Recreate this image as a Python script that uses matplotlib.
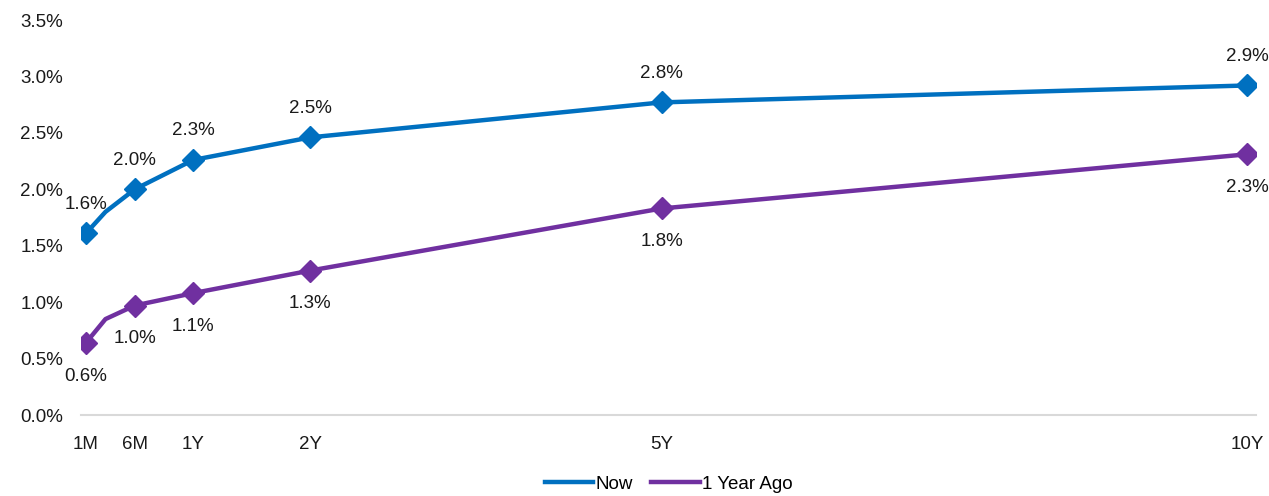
import matplotlib
matplotlib.use("Agg")
import matplotlib.pyplot as plt
from matplotlib.lines import Line2D
import numpy as np

# maturities in months, x axis is linear in months
months = [1, 3, 6, 12, 24, 60, 120]
tick_months = [1, 6, 12, 24, 60, 120]
tick_labels = ["1M", "6M", "1Y", "2Y", "5Y", "10Y"]
now = [1.61, 1.80, 2.00, 2.26, 2.46, 2.77, 2.92]
year_ago = [0.64, 0.85, 0.97, 1.08, 1.28, 1.83, 2.31]
show_marker = [True, False, True, True, True, True, True]

blue = "#0070C0"
purple = "#7030A0"

plt.rcParams["font.family"] = ["Liberation Sans", "DejaVu Sans"]

fig = plt.figure(figsize=(12.69, 4.96), dpi=100)
ax = fig.add_axes([81 / 1269, 81 / 496, (1256 - 81) / 1269, (476 - 81) / 496])

mk = [i for i, s in enumerate(show_marker) if s]
ax.plot(months, now, color=blue, lw=3.2, marker="D", ms=11, markevery=mk)
ax.plot(months, year_ago, color=purple, lw=3.2, marker="D", ms=11, markevery=mk)

fs = 13.5
for i in mk:
    ax.annotate("%.1f%%" % now[i], (months[i], now[i]), xytext=(0, 21), textcoords="offset points",
                ha="center", va="center", fontsize=fs, color="#1a1a1a")
    ax.annotate("%.1f%%" % year_ago[i], (months[i], year_ago[i]), xytext=(0, -24), textcoords="offset points",
                ha="center", va="center", fontsize=fs, color="#1a1a1a")

ax.set_xlim(0.49, 120.92)
ax.set_ylim(0, 3.5)
ax.set_yticks(np.arange(0, 3.51, 0.5))
ax.set_yticklabels(["%.1f%%" % v for v in np.arange(0, 3.51, 0.5)])
ax.set_xticks(tick_months)
ax.set_xticklabels(tick_labels)
ax.tick_params(length=0, labelsize=fs, colors="#1a1a1a")
ax.tick_params(axis="y", pad=13)
ax.tick_params(axis="x", pad=15)
for s in ["top", "right", "left"]:
    ax.spines[s].set_visible(False)
ax.spines["bottom"].set_color("#d9d9d9")
ax.spines["bottom"].set_linewidth(1.5)

handles = [Line2D([], [], color=blue, lw=3.2), Line2D([], [], color=purple, lw=3.2)]
ax.legend(handles, ["Now", "1 Year Ago"], loc="center", bbox_to_anchor=(0.5, -0.175), ncol=2,
          frameon=False, fontsize=fs, handlelength=2.6, handletextpad=0.1, columnspacing=1.0)

fig.savefig("out.png", dpi=100)
